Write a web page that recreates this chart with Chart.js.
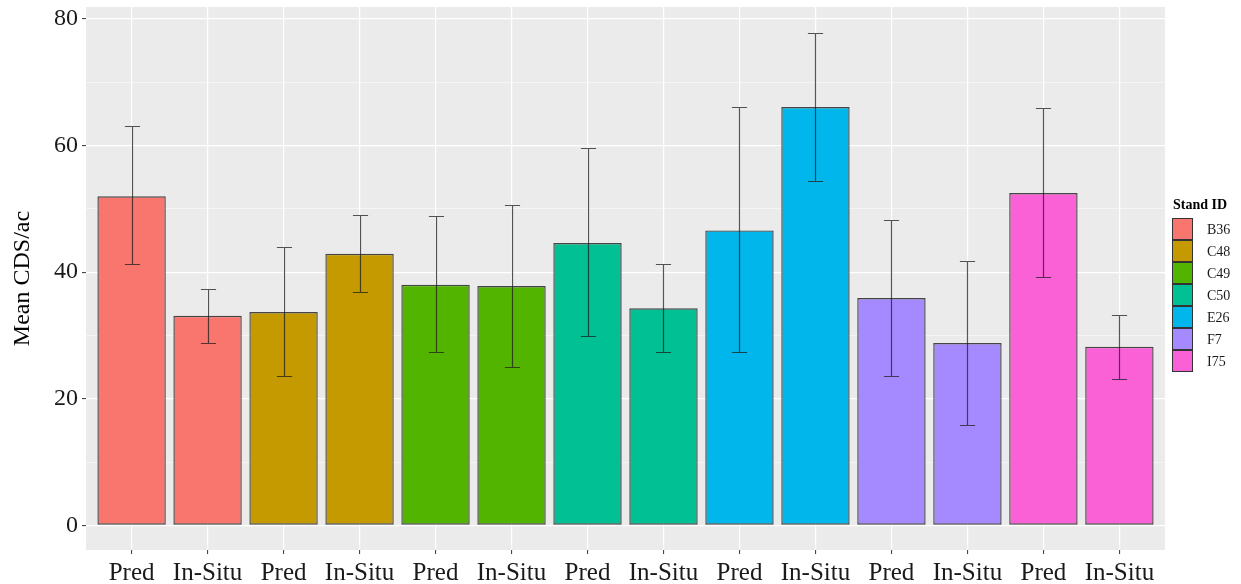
<!DOCTYPE html>
<html>
<head>
<meta charset="utf-8">
<script src="https://cdn.jsdelivr.net/npm/chart.js@4.4.1/dist/chart.umd.min.js"></script>
<style>
  html, body { margin: 0; padding: 0; background: #ffffff; }
  #wrap { width: 1241px; height: 584px; }
</style>
</head>
<body>
<div id="wrap"><canvas id="c" width="1241" height="584"></canvas></div>
<script>
// ---- data ----
const categories = ['Pred','In-Situ','Pred','In-Situ','Pred','In-Situ','Pred','In-Situ','Pred','In-Situ','Pred','In-Situ','Pred','In-Situ'];
const standOfBar = ['B36','B36','C48','C48','C49','C49','C50','C50','E26','E26','F7','F7','I75','I75'];
const meanCDS   = [52.0, 33.1, 33.7, 42.9, 38.0, 37.8, 44.6, 34.3, 46.6, 66.1, 35.9, 28.8, 52.5, 28.2];
const errLow    = [41.3, 28.8, 23.6, 36.8, 27.4, 25.0, 29.9, 27.4, 27.4, 54.4, 23.6, 15.8, 39.3, 23.1];
const errHigh   = [63.1, 37.4, 44.0, 49.1, 48.9, 50.6, 59.6, 41.3, 66.1, 77.8, 48.2, 41.7, 65.9, 33.2];
const standIds  = ['B36','C48','C49','C50','E26','F7','I75'];
const standColors = ['#F8766D','#C49A00','#53B400','#00C094','#00B6EB','#A58AFF','#FB61D7'];
const yTickValues = [0,10,20,30,40,50,60,70,80];

const FONT = "'Liberation Serif', 'DejaVu Serif', serif";

const barColors = standOfBar.map(s => standColors[standIds.indexOf(s)]);

const bgPlugin = {
  id: 'bg',
  beforeDraw(chart) {
    const {ctx, chartArea: a} = chart;
    ctx.save();
    ctx.fillStyle = '#ffffff';
    ctx.fillRect(0, 0, chart.width, chart.height);
    ctx.fillStyle = '#EBEBEB';
    ctx.fillRect(a.left, a.top, a.right - a.left, a.bottom - a.top);
    ctx.restore();
  }
};

const errPlugin = {
  id: 'errbars',
  afterDatasetsDraw(chart) {
    const {ctx} = chart;
    const xs = chart.scales.x, ys = chart.scales.y;
    ctx.save();
    ctx.strokeStyle = 'rgba(30,30,30,0.75)';
    ctx.lineWidth = 1.2;
    meanCDS.forEach((v, i) => {
      const x = Math.round(xs.getPixelForValue(i)) + 0.5;
      const hw = xs.getPixelForValue(i + 0.1) - xs.getPixelForValue(i);
      const yT = Math.round(ys.getPixelForValue(errHigh[i])) + 0.5;
      const yB = Math.round(ys.getPixelForValue(errLow[i])) + 0.5;
      ctx.beginPath();
      ctx.moveTo(x, yT); ctx.lineTo(x, yB);
      ctx.moveTo(x - hw, yT); ctx.lineTo(x + hw, yT);
      ctx.moveTo(x - hw, yB); ctx.lineTo(x + hw, yB);
      ctx.stroke();
    });
    ctx.restore();
  }
};

const legendPlugin = {
  id: 'customLegend',
  afterDraw(chart) {
    const {ctx} = chart;
    ctx.save();
    ctx.fillStyle = '#000';
    ctx.font = "bold 14px " + FONT;
    ctx.textAlign = 'left';
    ctx.textBaseline = 'alphabetic';
    ctx.fillText('Stand ID', 1173, 209);
    const x0 = 1172, y0 = 218, kw = 21, kh = 22;
    standIds.forEach((s, i) => {
      const y = y0 + i * kh;
      ctx.fillStyle = '#F2F2F2';
      ctx.fillRect(x0, y, kw, kh);
      ctx.fillStyle = standColors[i];
      ctx.fillRect(x0 + 0.5, y + 0.5, kw - 1, kh - 1);
      ctx.strokeStyle = '#333';
      ctx.lineWidth = 1;
      ctx.strokeRect(x0 + 0.5, y + 0.5, kw - 1, kh - 1);
      ctx.fillStyle = '#1a1a1a';
      ctx.font = "14px " + FONT;
      ctx.textBaseline = 'middle';
      ctx.fillText(s, 1207, y + kh / 2 + 1);
    });
    ctx.restore();
  }
};

new Chart(document.getElementById('c'), {
  type: 'bar',
  data: {
    datasets: [{
      data: meanCDS.map((v, i) => ({x: i, y: v})),
      backgroundColor: barColors,
      borderColor: 'rgba(40,40,40,0.85)',
      borderWidth: 1.4,
      borderSkipped: false,
      barPercentage: 0.9,
      categoryPercentage: 1.0
    }]
  },
  options: {
    responsive: false,
    animation: false,
    devicePixelRatio: 1,
    layout: { padding: { left: 0, right: 76, top: 7, bottom: 0 } },
    plugins: { legend: { display: false }, tooltip: { enabled: false } },
    scales: {
      x: {
        type: 'linear',
        min: -0.6,
        max: 13.6,
        offset: false,
        afterBuildTicks(scale) { scale.ticks = categories.map((c, i) => ({value: i})); },
        afterFit(scale) { scale.height = 34; scale.paddingLeft = 0; scale.paddingRight = 0; },
        border: { display: false },
        grid: { offset: false, color: '#FFFFFF', lineWidth: 1.2, drawTicks: true, tickLength: 4, tickColor: '#333333', tickWidth: 1 },
        ticks: {
          autoSkip: false, maxRotation: 0, minRotation: 0, padding: 4,
          color: '#1a1a1a',
          font: { family: FONT, size: 25 },
          callback: (v) => categories[v] ?? ''
        }
      },
      y: {
        type: 'linear',
        min: -3.9,
        max: 81.9,
        afterBuildTicks(scale) { scale.ticks = yTickValues.map(v => ({value: v})); },
        afterFit(scale) { scale.width = 86; scale.paddingTop = 0; scale.paddingBottom = 0; },
        border: { display: false },
        grid: {
          color: '#FFFFFF',
          lineWidth: (c) => (c.tick && c.tick.value % 20 === 0) ? 1.2 : 0.5,
          drawTicks: true, tickLength: 4,
          tickColor: (c) => (c.tick && c.tick.value % 20 === 0) ? '#333333' : 'rgba(0,0,0,0)',
          tickWidth: 1
        },
        ticks: {
          padding: 4,
          color: '#1a1a1a',
          font: { family: FONT, size: 24 },
          callback: (v) => (v % 20 === 0 ? String(v) : '')
        },
        title: {
          display: true,
          text: 'Mean CDS/ac',
          color: '#000',
          font: { family: FONT, size: 24 },
          padding: { top: 8, bottom: 0 }
        }
      }
    }
  },
  plugins: [bgPlugin, errPlugin, legendPlugin]
});
</script>
</body>
</html>
